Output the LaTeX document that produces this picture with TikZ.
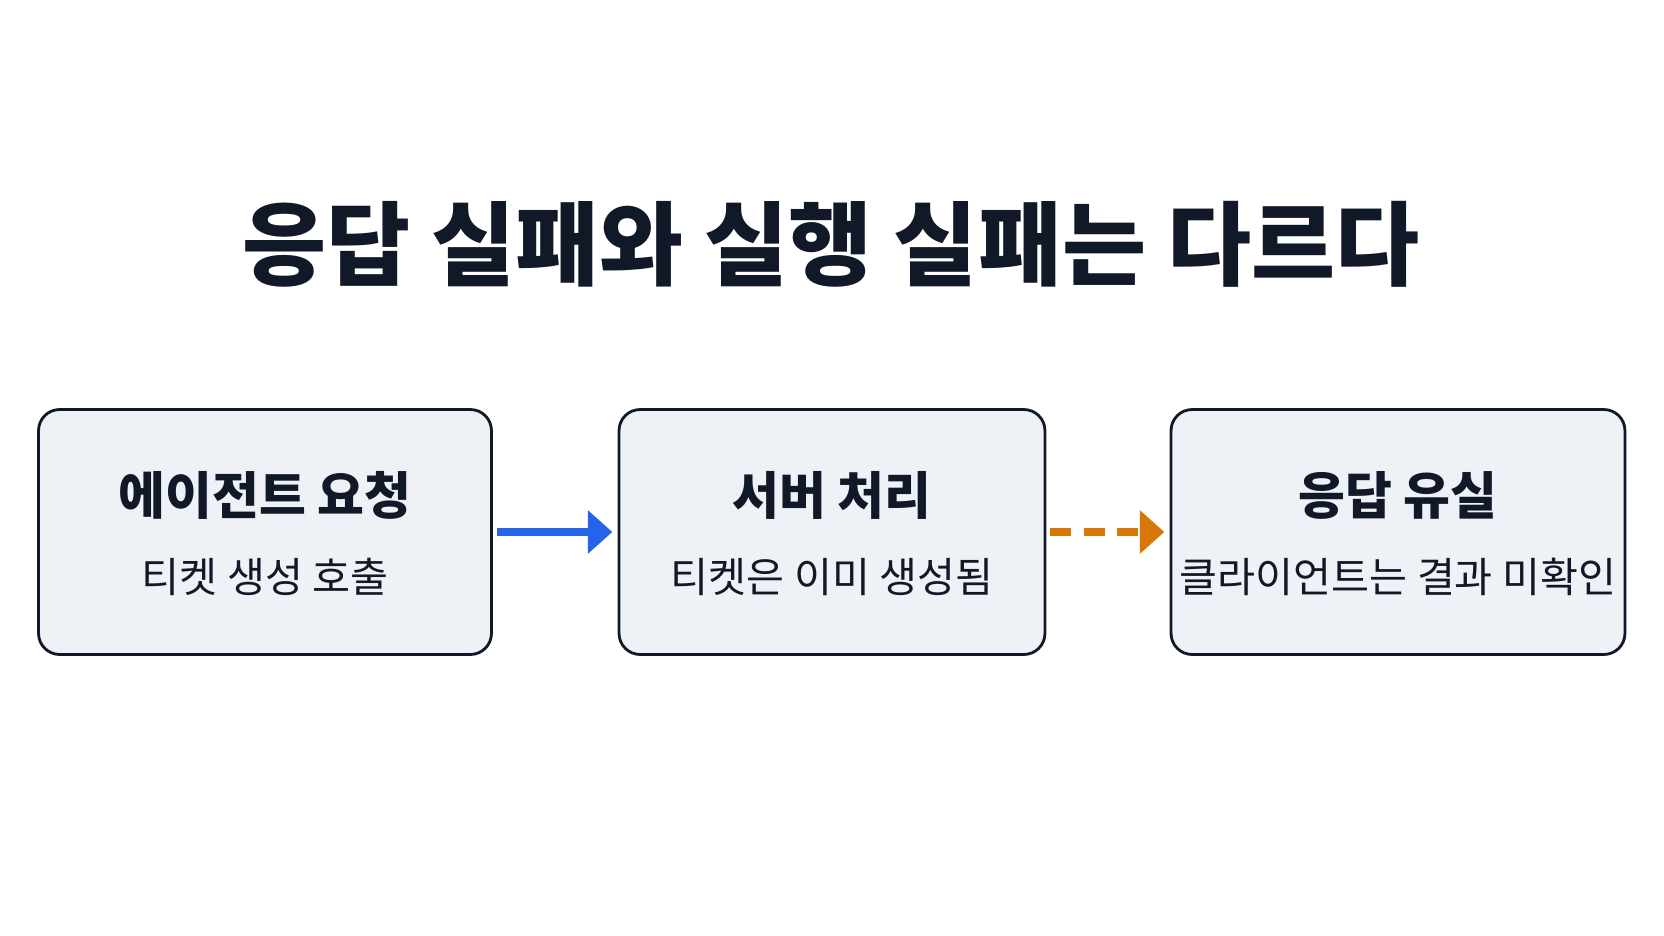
\documentclass[tikz,border=0pt]{standalone}
\usepackage{fontspec}
\newfontfamily\cjk{Noto Sans CJK KR}
\usetikzlibrary{positioning,arrows.meta}
\definecolor{boxfill}{HTML}{EEF2F7}
\definecolor{ink}{HTML}{111827}
\definecolor{flowblue}{HTML}{2563EB}
\definecolor{floworange}{HTML}{D97706}
\begin{document}
\begin{tikzpicture}[x=0.02cm,y=-0.02cm]
  \tikzstyle{box} = [draw=ink, line width=1.6pt, rounded corners=12pt, fill=boxfill,
                     minimum width=9.06cm, minimum height=4.9cm, font=\cjk]
  \tikzstyle{head} = [font=\cjk\bfseries\fontsize{29}{33}\selectfont, text=ink]
  \tikzstyle{sub} = [font=\cjk\fontsize{23.5}{27}\selectfont, text=ink]
  \tikzstyle{flow} = [line width=4pt, -{Triangle[length=14pt,width=24pt]}]
  \useasboundingbox (0,0) rectangle (1664,936);
  \node[font=\cjk\bfseries\fontsize{52}{58}\selectfont, text=ink] (title) at (831,244) {응답 실패와 실행 실패는 다르다};
  \node[box] (agent) at (265,532) {};
  \node[box, minimum width=8.52cm] (server) at (832,532) {};
  \node[box, minimum width=9.08cm] (lost) at (1398,532) {};
  \node[head] (agenttop) at (265,495) {에이전트 요청};
  \node[sub] (agentsub) at (265,577) {티켓 생성 호출};
  \node[head] (servertop) at (832,495) {서버 처리};
  \node[sub] (serversub) at (832,577) {티켓은 이미 생성됨};
  \node[head] (losttop) at (1398,495) {응답 유실};
  \node[sub] (lostsub) at (1398,577) {클라이언트는 결과 미확인};
  \draw[flow, color=flowblue] (agent.east) ++(4,0) -- ([xshift=-3pt]server.west);
  \draw[flow, color=floworange, dash pattern=on 12pt off 7pt] (server.east) ++(4,0) -- ([xshift=-3pt]lost.west);
\end{tikzpicture}
\end{document}
